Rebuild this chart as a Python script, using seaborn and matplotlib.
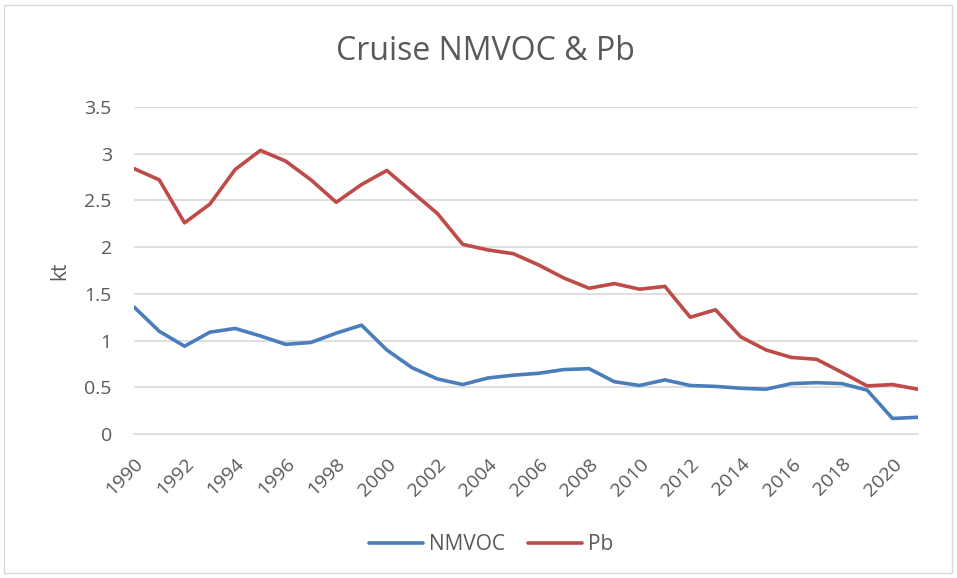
import matplotlib
matplotlib.use("Agg")
import matplotlib.pyplot as plt
import matplotlib.patches as mpatches
import numpy as np
import pandas as pd
import seaborn as sns

years = list(range(1990, 2022))
nmvoc = [1.36, 1.10, 0.94, 1.09, 1.13, 1.05, 0.96, 0.98, 1.08, 1.165,
         0.90, 0.71, 0.59, 0.53, 0.60, 0.63, 0.65, 0.69, 0.70, 0.56,
         0.52, 0.58, 0.52, 0.51, 0.49, 0.48, 0.54, 0.55, 0.54, 0.47,
         0.167, 0.18]
pb = [2.84, 2.72, 2.26, 2.46, 2.83, 3.035, 2.92, 2.72, 2.48, 2.67,
      2.82, 2.59, 2.36, 2.03, 1.97, 1.93, 1.81, 1.67, 1.56, 1.61,
      1.55, 1.58, 1.25, 1.33, 1.04, 0.90, 0.82, 0.80, 0.66, 0.515,
      0.53, 0.48]
series_names = ["NMVOC", "Pb"]
y_ticks = [0, 0.5, 1, 1.5, 2, 2.5, 3, 3.5]

df = pd.DataFrame({
    "year": years * 2,
    "value": nmvoc + pb,
    "series": [series_names[0]] * len(years) + [series_names[1]] * len(years),
})

sns.set_theme(style="white")
plt.rcParams["font.family"] = ["Open Sans", "DejaVu Sans"]
text_color = "#595959"
grid_color = "#D9D9D9"
colors = {"NMVOC": "#4A7EBB", "Pb": "#BE4B48"}

fig = plt.figure(figsize=(9.57, 5.78), dpi=100)
ax = fig.add_axes([0.140, 0.249, 0.819, 0.566])

# outer chart frame
fig.patches.append(mpatches.Rectangle((4 / 957, 5 / 578), 948 / 957, 568 / 578,
                                      transform=fig.transFigure, fill=False,
                                      edgecolor="#D9D9D9", linewidth=1.0))

sns.lineplot(data=df, x="year", y="value", hue="series", palette=colors,
             linewidth=2.6, ax=ax, legend=False)

ax.set_xlim(1990, 2021)
ax.set_ylim(0, 3.5)
ax.set_yticks(y_ticks)
ax.set_yticklabels([f"{v:g}" for v in y_ticks], color=text_color, fontsize=14)
ax.set_xticks(years)
ax.set_xticklabels([str(y) if (y - 1990) % 2 == 0 else "" for y in years],
                   rotation=45, ha="right", rotation_mode="anchor",
                   color=text_color, fontsize=14)
ax.tick_params(axis="x", length=6, width=1, color=grid_color, pad=9, direction="out")
ax.tick_params(axis="y", length=0, pad=16)

for v in y_ticks[1:]:
    ax.axhline(v, color=grid_color, linewidth=1.2, zorder=0)
for s in ["left", "right", "top"]:
    ax.spines[s].set_visible(False)
ax.spines["bottom"].set_color(grid_color)
ax.spines["bottom"].set_linewidth(1.2)

ax.set_xlabel("")
ax.set_ylabel("kt", color=text_color, fontsize=15, labelpad=10)
fig.text(485 / 957, 1 - 51 / 578, "Cruise NMVOC & Pb", color=text_color, fontsize=23,
         ha="center", va="center")

handles = [plt.Line2D([], [], color=colors[n], linewidth=2.6, solid_capstyle="round")
           for n in series_names]
fig.legend(handles, series_names, loc="center", bbox_to_anchor=(491 / 957, 1 - 545 / 578),
           ncol=2, frameon=False, fontsize=15, labelcolor=text_color,
           handlelength=2.6, handletextpad=0.3, columnspacing=1.1)

fig.savefig("out.png", dpi=100)
